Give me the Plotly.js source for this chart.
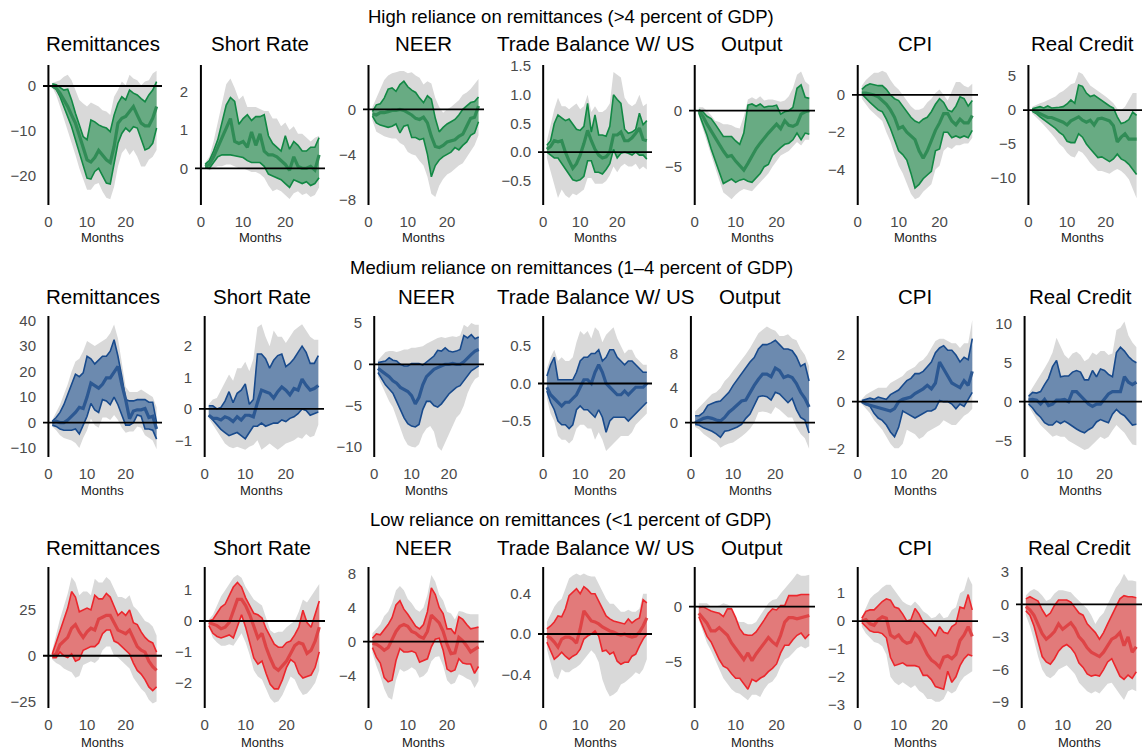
<!DOCTYPE html>
<html><head><meta charset="utf-8">
<script src="https://cdn.plot.ly/plotly-3.0.1.min.js"></script>
<style>html,body{margin:0;padding:0;background:#fff}#chart{width:1142px;height:751px}</style>
</head><body><div id="chart"></div>
<script>
const months = [1,2,3,4,5,6,7,8,9,10,11,12,13,14,15,16,17,18,19,20,21,22,23,24,25,26,27,28];
const rowTitles = ['High reliance on remittances (>4 percent of GDP)','Medium reliance on remittances (1\u20134 percent of GDP)','Low reliance on remittances (<1 percent of GDP)'];
const panelTitles = ['Remittances','Short Rate','NEER','Trade Balance W/ US','Output','CPI','Real Credit'];
const xTicks = [0,10,20];

// ---------- HIGH reliance ----------
const hi_remit_glo = [-0.3,-2,-4.6,-7.2,-9.8,-12.4,-15.4,-18.4,-21,-23.2,-23.2,-22,-21.7,-23.6,-25,-25.3,-22.5,-18,-15,-13.9,-15.4,-14.3,-15.8,-18,-18,-16.5,-15.8,-14.3];
const hi_remit_ghi = [0.7,1,1.3,2.1,2.5,1.3,-0.9,-3.1,-3.9,-4.6,-3.7,-4.2,-4.6,-5.4,-5.7,-6.5,-2.4,-0.9,1,0.2,2.5,1.7,1.3,0.2,1,1.3,2.8,3.4];
const hi_remit_lo = [0,-0.7,-2.4,-4.6,-6.8,-9.1,-12,-15,-18,-20.6,-20.8,-19.1,-18.4,-20.2,-21.7,-21.9,-17.2,-12.8,-10.6,-9.4,-10.2,-9.1,-9.4,-12,-14.3,-13.9,-12.8,-9.4];
const hi_remit_hi = [0.5,0.3,-0.3,-0.9,-0.7,-3.1,-6.1,-8.7,-11.3,-12,-7.6,-8,-8.7,-9.1,-9.4,-10.2,-6.5,-3.9,-2.4,-3.1,-0.9,-1.6,-2,-2.8,-3.5,-2,-0.9,1];
const hi_remit_med = [0,-0.5,-1.6,-3,-4.6,-6.5,-8.3,-11,-13.5,-16.5,-17,-16,-14.4,-15.4,-16.5,-17.1,-13.5,-8.3,-7.2,-6.8,-5.7,-4.6,-6.5,-8.3,-8.9,-8.9,-7.2,-4.6];

const hi_rate_glo = [0,-0.05,0,0.05,0.05,0.1,0.1,0.05,0,0,-0.05,-0.1,-0.1,-0.15,-0.25,-0.45,-0.6,-0.55,-0.6,-0.7,-0.8,-0.65,-0.6,-0.7,-0.65,-0.75,-0.7,-0.5];
const hi_rate_ghi = [0.15,0.3,0.7,1.2,1.7,2.2,2.35,2.1,1.8,1.9,1.6,1.6,1.6,1.55,1.5,1.5,1.3,1.3,1.1,1.2,1.0,1.1,0.9,0.9,0.8,0.7,0.8,0.85];
const hi_rate_lo = [0.02,0,0.15,0.3,0.35,0.35,0.35,0.33,0.3,0.28,0.2,0.15,0.15,0.15,0.05,-0.15,-0.2,-0.25,-0.3,-0.4,-0.5,-0.3,-0.35,-0.4,-0.35,-0.45,-0.4,-0.25];
const hi_rate_hi = [0.1,0.2,0.45,0.75,1.2,1.65,1.85,1.75,1.15,1.3,1.4,1.25,1.35,1.35,1.4,0.85,0.65,0.55,0.45,0.85,0.5,0.7,0.6,0.45,0.45,0.55,0.55,0.8];
const hi_rate_med = [0.05,0.1,0.3,0.55,0.8,1.05,1.3,0.7,0.65,0.7,0.55,0.95,0.6,0.9,0.45,0.35,0.35,0.3,0.2,0.1,-0.05,0.3,0.05,0,0,0.05,-0.05,0.35];

const hi_neer_glo = [-1,-2,-2.2,-2.4,-2.5,-2.6,-2.6,-3,-3.2,-3.8,-4,-4.1,-4.6,-5,-6,-7.5,-7.8,-6.8,-6.2,-5.8,-5.6,-5.3,-5,-4.8,-4.3,-3.7,-3.2,-2.3];
const hi_neer_ghi = [0.2,1,1.8,2.6,3,3.2,3.3,3.4,3.4,3.2,3.3,3,2.8,2.2,2.5,2.3,1,0.2,-0.3,0,0.2,0.5,0.8,1.3,1.5,1.8,2.3,2.7];
const hi_neer_lo = [-0.6,-1.2,-1.4,-1.5,-1.6,-1.5,-1.3,-2.1,-1.5,-1.4,-2.5,-2.5,-2.7,-2.6,-4,-6,-5,-4.5,-4.2,-4,-3.8,-3.4,-3.6,-3.2,-2.9,-2.3,-2.1,-1.1];
const hi_neer_hi = [-0.2,0.4,0.5,1,1.8,1.9,1.6,2.2,2.5,2,1.7,1.5,1,0.6,1.2,0.9,-0.8,-2,-1.6,-1.3,-1.1,-0.9,-0.5,0,0.3,0.6,0.7,1.1];
const hi_neer_med = [-0.4,-0.5,-0.3,-0.3,-0.2,-0.1,-0.1,0,-0.1,-0.3,-0.5,-0.8,-0.9,-0.7,-1.2,-2.4,-3.3,-3.4,-3.2,-2.9,-2.8,-2.7,-2.4,-2.2,-1.5,-0.8,-0.7,0.3];

const hi_tb_glo = [-0.1,-0.35,-0.6,-0.8,-0.65,-0.75,-0.8,-0.72,-0.75,-0.7,-0.65,-0.45,-0.45,-0.55,-0.55,-0.55,-0.5,-0.4,-0.25,-0.35,-0.25,-0.2,-0.25,-0.25,-0.2,-0.3,-0.25,-0.3];
const hi_tb_ghi = [0.2,0.5,0.75,0.95,0.8,0.8,0.75,0.8,0.85,0.75,0.8,1.0,0.7,0.8,0.7,0.7,0.75,0.85,1.4,1.35,1.3,0.95,0.85,0.8,0.85,1.0,0.8,0.85];
const hi_tb_lo = [0,-0.05,-0.1,-0.1,-0.2,-0.3,-0.4,-0.48,-0.5,-0.48,-0.42,-0.15,-0.15,-0.35,-0.35,-0.38,-0.3,-0.2,0.05,-0.1,-0.02,0,-0.02,-0.05,0,-0.05,-0.05,-0.12];
const hi_tb_hi = [0.12,0.2,0.5,0.65,0.6,0.55,0.58,0.5,0.4,0.38,0.45,0.85,0.35,0.65,0.3,0.3,0.28,0.45,1.0,0.92,0.85,0.4,0.33,0.35,0.4,0.68,0.48,0.55];
const hi_tb_med = [0.05,0.1,0.2,0.18,0.2,0,-0.15,-0.28,-0.2,-0.05,0.15,0.38,0.2,0.05,-0.05,-0.1,-0.08,0,0.3,0.3,0.35,0.2,0.2,0.25,0.33,0.42,0.22,0.2];

const hi_out_glo = [-0.5,-1.7,-2.8,-4,-5.1,-6.2,-7.3,-7.6,-7.9,-7.5,-7.2,-7,-7.1,-7.2,-6.8,-6.4,-6,-5.6,-5,-4.5,-4,-3.8,-3.6,-3.2,-2.8,-3.1,-2.6,-2.6];
const hi_out_ghi = [0.3,0.3,0,-0.4,-0.9,-1,-1.2,-1.2,-1.3,-1.5,-1.6,-0.5,1,1.2,1,1.3,0.9,1,1,0.9,0.8,0.9,1.3,2,3.2,3.5,2.6,2.3];
const hi_out_lo = [-0.2,-1.2,-2.2,-3.4,-4.5,-5.5,-6.5,-6.3,-6.1,-6.4,-6.2,-6.1,-6.3,-6.4,-6,-5.6,-5,-4.8,-4,-3.6,-3.3,-3,-2.9,-2.6,-2,-2.6,-2,-2.1];
const hi_out_hi = [0.1,-0.1,-0.5,-0.7,-1.2,-1.7,-2.3,-2.3,-2.3,-2.7,-3,-2,0.5,0.6,0.4,0.6,0.3,0.4,0.4,0.5,-0.3,-0.1,0,0.3,2,2.3,1.2,1.1];
const hi_out_med = [0,-0.5,-1.2,-1.8,-2.5,-3,-3.6,-4.1,-4,-4.5,-4.9,-5.3,-4.7,-4,-3.4,-2.9,-2.4,-2,-1.6,-1.2,-1.6,-0.9,-1.3,-1.4,-1.2,-0.3,-0.1,0];

const hi_cpi_glo = [-0.2,-0.5,-0.8,-1,-1.2,-1.4,-2,-2.5,-3.2,-3.8,-4.2,-4.7,-5.3,-5.6,-5.5,-5.2,-5,-4.8,-4,-3.8,-3,-2.8,-2.9,-2.7,-2.7,-2.6,-2.6,-2.3];
const hi_cpi_ghi = [0.5,0.8,1,1.2,1.2,1.3,1.2,0.8,0.5,0.3,0,-0.3,-0.6,-0.8,-0.8,-0.7,-0.4,-0.2,0.1,0.3,0,-0.3,0.2,0.7,0.7,0.5,0.4,0.6];
const hi_cpi_lo = [0.05,-0.2,-0.4,-0.6,-0.8,-0.9,-1.3,-1.8,-2.4,-3,-3.2,-3.5,-4.2,-5,-4.8,-4.5,-4.3,-4.1,-3,-2.9,-2,-2,-2.3,-2.2,-2.3,-2.2,-2.3,-1.9];
const hi_cpi_hi = [0.3,0.5,0.6,0.55,0.5,0.5,0.3,0,-0.2,-0.3,-0.6,-0.9,-1.2,-1.4,-1.5,-1.3,-1.2,-0.9,-0.5,-0.2,-0.4,-0.8,-0.9,-0.6,-0.1,-0.2,-0.6,-0.3];
const hi_cpi_med = [0.1,0.1,0.05,0,-0.1,-0.3,-0.5,-0.8,-1.2,-1.8,-1.7,-2,-2.2,-2.4,-3,-3.4,-3,-2.4,-1.9,-1.5,-1,-1,-1.4,-1.6,-1.3,-1.5,-1.5,-1.1];

const hi_cred_glo = [-0.5,-1,-1.6,-2.2,-2.8,-3.5,-4.2,-5,-5.5,-6.3,-6.8,-7,-6,-6.3,-7,-7.8,-8.4,-9,-9,-9.2,-9.4,-9,-8.7,-9,-9.5,-10.2,-11.5,-13];
const hi_cred_ghi = [0.5,0.8,1,1.2,1.5,1.8,2,2.5,2.8,3.3,3.8,4,5.6,5.3,4.5,3.6,3.2,2.8,2.5,2,1.5,1,0.2,0,0.5,1.5,2.5,2.5];
const hi_cred_lo = [-0.2,-0.5,-1,-1.4,-1.8,-2.3,-2.7,-3.3,-3.7,-4.6,-4.8,-4.8,-3.5,-4,-5,-5.7,-6.3,-7,-6.9,-7.2,-7.6,-7.2,-6.5,-7.2,-7.5,-8,-8.8,-9.5];
const hi_cred_hi = [0.2,0.4,0.5,0.3,0.6,0.3,0.3,0.4,0.5,0.9,1.5,1,3.7,3.5,2.5,2,2.2,1.8,1.3,0.9,0.6,0.3,-1,-2,-1.8,-1.4,-0.3,-0.8];
const hi_cred_med = [0,-0.3,-0.5,-0.8,-1.1,-1.1,-1.3,-1.5,-1.8,-2.2,-1.6,-1.3,-1,-1.5,-1.8,-1.5,-2.2,-1.3,-1.2,-1.4,-1.6,-2.3,-4.7,-4,-3.5,-4.3,-4.3,-4.3];

// ---------- MEDIUM reliance ----------
const md_remit_glo = [-1.5,-3,-5,-6,-6.5,-7,-8,-10,-6,-3,1.5,-1,-2,2,2,1,3,1,-2,-4,-3.5,-3.5,-1.5,-2,-5,-6,-7,-10.5];
const md_remit_ghi = [1,4,7,11,15,20,24,25,28,32,31,30,31,32,33,35,38.5,33,23,14,12,12,12,13,12,11,10,6];
const md_remit_lo = [-1,-1.5,-2.5,-3,-3,-3,-2.5,-4.5,-1,2.5,7.5,5,4,9,8.5,7,10,7,3,-1,-1,0,3,2.5,-2.5,-2.5,-3,-6.5];
const md_remit_hi = [0.5,2,4,7,11,15,19,18,19.5,26,25,23,24.5,26,26,28,32.5,26,18,9,8.5,8.5,9,9,9,8,8,0];
const md_remit_med = [0,0.5,0,0,1,2.5,4,6,5.5,10,15.5,14.5,13.5,15,17.5,17.5,20,22,15,9,1.5,4.5,5,5,5.5,2,2.5,-2.5];

const md_rate_glo = [-0.3,-0.5,-0.7,-0.9,-1.1,-1.2,-1.25,-1.2,-1.25,-1.3,-1.2,-1.15,-1,-1.3,-1.2,-1.1,-1.2,-1.3,-1.2,-1.1,-1.05,-1,-0.9,-0.95,-0.8,-0.9,-0.85,-0.5];
const md_rate_ghi = [0.15,0.3,0.35,0.6,0.8,1.1,0.9,1.3,1.3,1.5,1.2,1.6,2.6,2.7,2.3,2,2.5,2.3,2.3,2.1,2.3,2.5,2.6,2.7,2.5,2.3,2.2,2.2];
const md_rate_lo = [-0.2,-0.35,-0.5,-0.65,-0.75,-0.85,-0.8,-0.75,-0.85,-0.95,-0.75,-0.55,-0.55,-0.45,-0.55,-0.5,-0.45,-0.45,-0.35,-0.4,-0.3,-0.25,-0.15,0,-0.05,-0.2,-0.15,-0.1];
const md_rate_hi = [0.1,0.1,0,0.05,0.25,0.55,0.2,0.5,0.6,0.8,0.15,0.3,1.75,1.75,1.6,1.3,1.55,1.7,1.75,1.35,1.45,1.6,1.8,2,1.8,1.45,1.45,1.7];
const md_rate_med = [-0.2,-0.3,-0.3,-0.35,-0.25,-0.3,-0.4,-0.25,-0.35,-0.2,-0.2,-0.25,0.2,0.6,0.55,0.5,0.35,0.55,0.7,0.6,0.45,0.65,0.6,0.95,0.75,0.6,0.65,0.75];

const md_neer_glo = [-1.5,-2.5,-3.5,-4.5,-5.2,-6.5,-7.8,-9,-9.8,-10,-10.1,-9.7,-8.5,-7.8,-7.5,-8.2,-10,-10.5,-9.5,-8.5,-7.5,-6.5,-6,-5,-3.5,-2.5,-1.8,-1.5];
const md_neer_ghi = [0.5,1,1.5,1.6,1.6,1.5,1.6,1.8,1.8,2,2,2.1,2.2,2.5,2.7,3,3.2,3.3,3.2,3.3,3.4,3.3,3.5,4.8,4.5,5,4.8,4.8];
const md_neer_lo = [-1,-1.8,-2.5,-3,-3.5,-4.5,-5.5,-6.5,-7.2,-7.5,-7.6,-7.3,-5.5,-4.5,-4.5,-5,-5.2,-4.8,-4.2,-3.6,-3.2,-2.8,-2.6,-2,-1.3,-0.8,-0.5,-0.2];
const md_neer_hi = [0.2,0.3,0.4,0.8,0.5,0.4,0,-0.2,-0.2,0.1,0.1,0.1,-0.1,0.3,0.6,1,1.7,1.6,2,1.6,1.5,1.6,1.8,3.5,3.2,3.6,3.1,3.3];
const md_neer_med = [-0.5,-0.8,-1.2,-1.5,-2,-2.3,-2.8,-3,-3.3,-3.8,-4.8,-4,-2.5,-1.5,-1,-0.6,-0.4,-0.2,0,0,0.1,0,0,0.3,0.8,1.2,1.6,1.8];

const md_tb_glo = [-0.2,-0.4,-0.5,-0.7,-0.75,-0.75,-0.8,-0.75,-0.6,-0.55,-0.55,-0.6,-0.6,-0.75,-0.65,-0.75,-0.9,-0.85,-0.8,-0.75,-0.7,-0.7,-0.7,-0.65,-0.55,-0.5,-0.45,-0.4];
const md_tb_ghi = [0.2,0.35,0.45,0.3,0.35,0.3,0.3,0.35,0.55,0.7,0.65,0.7,0.6,0.75,0.7,0.55,0.65,0.7,0.75,0.6,0.5,0.4,0.45,0.45,0.35,0.3,0.25,0.25];
const md_tb_lo = [-0.1,-0.25,-0.35,-0.5,-0.55,-0.55,-0.6,-0.55,-0.35,-0.3,-0.35,-0.35,-0.4,-0.45,-0.35,-0.45,-0.65,-0.5,-0.45,-0.45,-0.45,-0.45,-0.5,-0.45,-0.4,-0.35,-0.3,-0.25];
const md_tb_hi = [0.1,0.25,0.35,0.05,0.05,0.05,0.05,0.05,0.15,0.3,0.35,0.35,0.4,0.4,0.45,0.3,0.35,0.45,0.45,0.35,0.3,0.25,0.3,0.3,0.25,0.2,0.15,0.15];
const md_tb_med = [-0.05,-0.15,-0.2,-0.25,-0.3,-0.25,-0.25,-0.2,-0.15,-0.05,0.05,0.05,0,0.15,0.25,0.15,0,-0.05,-0.1,-0.15,-0.15,-0.1,-0.15,-0.1,-0.05,-0.05,-0.05,0];

const md_out_glo = [-0.5,-0.8,-1.3,-1.7,-2,-2.3,-2.9,-2.6,-2.4,-2.3,-2,-1.6,-1.2,-0.7,0,1.2,1.3,1.2,1,1.8,1.5,1,0.6,0.6,-0.5,-1.3,-1.8,-3];
const md_out_ghi = [1.3,1.8,2.3,2.8,3.3,3.5,4,4.8,5.3,6,6.6,7.3,7.9,8.6,9.5,10.3,10.7,11.1,10.8,10.6,10,10,10.2,9.7,9.5,8.5,7.8,6.5];
const md_out_lo = [-0.2,-0.3,-0.6,-0.8,-1,-1.3,-1.7,-1,-0.9,-0.7,-0.5,-0.2,0.5,1,2,3,3.1,3,2.6,3.5,3.3,2.8,2.3,2.8,1.5,0.6,0.3,-1.2];
const md_out_hi = [0.8,0.8,1.2,2,2.2,2.4,2.5,3,3.5,4.3,5,5.6,6.3,7,7.5,8.5,9,9,9.2,9.5,9,8.5,8.5,8.3,7.6,6.5,6.8,4.8];
const md_out_med = [0,0.3,0.5,0.6,0.5,0.3,0.2,0.6,1.2,1.6,2,2.5,2.6,3.5,4.3,5,5.6,5.6,5.3,6.3,6,5.2,5.4,5.2,4.5,3.5,2.8,1.8];

const md_cpi_glo = [-0.1,-0.3,-0.5,-0.8,-1,-1.2,-1.5,-1.8,-2,-2,-1.8,-1.2,-1.3,-1.4,-1.6,-1.5,-1.3,-1.2,-1.1,-1,-0.8,-0.9,-1,-1,-0.8,-0.6,-0.5,-0.3];
const md_cpi_ghi = [0.1,0.3,0.4,0.5,0.6,0.6,0.6,0.8,0.9,1,1.1,1.3,1.4,1.5,1.7,1.8,2,2.3,2.6,2.7,2.7,2.6,2.5,2.5,2.3,2.5,2.5,3.5];
const md_cpi_lo = [0,-0.1,-0.2,-0.5,-0.7,-0.8,-1,-1.3,-1.5,-1.1,-0.4,-0.5,-0.6,-0.7,-0.6,-0.5,-0.4,-0.4,-0.3,0.05,0,0,-0.1,-0.3,-0.1,-0.2,0.1,0.4];
const md_cpi_hi = [0.05,0.1,0.15,0.1,0.2,0.15,0.1,0.3,0.4,0.5,0.7,0.9,1,1.2,1.2,1.3,1.5,1.7,2.1,2.3,2.4,2.2,2.2,2,1.7,1.9,1.8,2.7];
const md_cpi_med = [0,-0.1,-0.15,-0.2,-0.25,-0.3,-0.35,-0.4,-0.3,0,0.1,0.15,0.2,0.35,0.45,0.55,0.7,0.55,0.8,1.7,1.4,1.1,0.8,0.7,0.6,0.9,0.7,1.3];

const md_cred_glo = [-0.6,-1.5,-2.3,-3,-3.5,-4,-4.5,-4.3,-4.5,-4.5,-5,-5.3,-5.6,-5.9,-6.2,-6,-5.5,-5,-4.5,-4.8,-4.5,-3.7,-3,-3.5,-4,-4.8,-5.5,-5.6];
const md_cred_ghi = [1,1.8,2.6,3.4,4.3,5.2,6.3,8.2,7,6,5.5,6.2,6.4,6,5.2,5.5,6.3,6,6.5,6.5,6,6.2,9.2,9.5,10.3,8.5,7.6,7];
const md_cred_lo = [-0.3,-0.8,-1.5,-2,-2.7,-3,-3,-2.5,-2.8,-2.5,-2.8,-3.2,-3.5,-3.8,-4,-3.6,-3.3,-2.6,-2.3,-2.5,-2.7,-1.6,-1,-1.5,-1.8,-2.4,-3,-2.9];
const md_cred_hi = [0.7,1.2,1.1,1.3,2.2,3,4.5,5.3,3.2,3.3,3.3,3.8,4,3.8,2.8,2.8,4,3.2,4.2,4,3.5,3.2,6.3,7,6.5,5.8,5.3,5];
const md_cred_med = [0.2,0.3,0.2,-0.3,0.3,-0.5,-0.3,0.2,0.2,0.3,0,1.3,1.3,0.8,0.2,-0.3,-0.6,-0.3,-0.3,0.3,1,1.3,1.3,1.3,3.2,2.5,2.2,2.5];

// ---------- LOW reliance ----------
const lo_remit_glo = [-2,-4,-5,-7,-8,-9,-12,-11,-5,-4,-3,-4,-2,3,5,5,0,-1,-3,-5,-7,-12,-15,-18,-20,-24,-26,-25];
const lo_remit_ghi = [3,12,20,27,34,43,40,33,35,35,33,42,40,40,43,41,36,32,32,31,33,27,25,22,19,18,16,11];
const lo_remit_lo = [-1,-1,2,0,-1,1,-3,-2,3,4,5,5,7,12,14,14,8,7,5,3,1,-4,-8,-10,-13,-17,-19,-17];
const lo_remit_hi = [1,7,13,20,26,35,32,24,25,26,25,33,31,31,34,32,27,22,24,22,25,18,17,13,10,8,7,2];
const lo_remit_med = [0,1,6,8,10,15,17,13,10,13,15,14,20,21,22,22,18,14,13,12,14,9,5,3,2,-3,-6,-8];

const lo_rate_glo = [-0.2,-0.55,-0.7,-0.8,-0.8,-0.75,-0.8,-0.6,-0.4,-0.7,-1.1,-1.6,-1.8,-1.9,-2.2,-2.5,-2.65,-2.6,-2.4,-2.1,-1.8,-1.9,-2.2,-2.4,-2.35,-2.2,-2,-1.6];
const lo_rate_ghi = [0.05,0.2,0.5,0.8,1,1.2,1.4,1.5,1.4,1.1,0.9,0.7,0.6,0.5,0.1,-0.3,-0.4,-0.35,-0.35,-0.2,-0.1,0,0.3,0.7,0.6,0.8,1,1.2];
const lo_rate_lo = [-0.15,-0.4,-0.5,-0.55,-0.5,-0.45,-0.55,-0.2,0.2,-0.2,-0.7,-1.2,-1.4,-1.3,-1.7,-2.05,-2.2,-2.2,-1.9,-1.5,-1.25,-1.35,-1.7,-1.85,-1.8,-1.75,-1.5,-1];
const lo_rate_hi = [0,0.05,0.25,0.45,0.55,0.8,1.1,1.25,1.1,0.75,0.5,0.25,0.2,0.1,-0.25,-0.5,-0.75,-0.85,-0.85,-0.7,-0.65,-0.45,-0.2,0.35,-0.05,-0.2,0.25,0.65];
const lo_rate_med = [-0.05,-0.1,-0.15,-0.25,-0.2,-0.05,0.35,0.7,0.7,0.5,0.2,-0.15,-0.55,-0.4,-0.85,-1.2,-1.5,-1.6,-1.45,-1.3,-1.05,-0.8,-0.7,-0.75,-1.05,-0.95,-0.65,-0.2];

const lo_neer_glo = [-1.3,-2.8,-4,-5.5,-6.5,-6.8,-4.5,-3.2,-3.5,-3.3,-3,-3.3,-4.2,-4,-3.5,-2.3,-1.8,-1.7,-2.8,-4.5,-5,-4.8,-3.8,-4,-4.3,-4.5,-5.4,-4.6];
const lo_neer_ghi = [1,1.5,2,3,3.5,4.5,6,6.5,6,5,4.5,3.8,3.5,4,5.5,7.8,7,5.5,4.8,3.5,3.3,2.6,3.6,3.5,3.3,3.2,3.2,3.2];
const lo_neer_lo = [-0.7,-1.8,-2.5,-4.2,-4.7,-4.5,-2.2,-0.8,-1.2,-1.2,-1.1,-1.3,-2.4,-2.2,-2,-0.6,0.3,0.4,-1,-3.2,-3.5,-3.3,-2,-2.5,-2.6,-2.6,-3.7,-2.9];
const lo_neer_hi = [0.4,0.9,0.8,1.4,2,2.8,4.3,4.8,3.8,3.2,2.5,1.8,1.5,2,3.5,6.3,5.5,4,3.3,1.5,1.5,0.9,2.9,2.6,2,1.5,1.6,1.7];
const lo_neer_med = [-0.2,-0.3,-0.6,-1,-0.7,0.2,1.2,1.8,2,1.8,1.2,1,0.6,0.4,1.2,3.1,2.7,2.2,1.2,-0.3,-1.4,-1.3,0.5,0.1,-0.5,-1.2,-0.9,-0.6];

const lo_tb_glo = [-0.15,-0.3,-0.42,-0.45,-0.35,-0.38,-0.38,-0.35,-0.33,-0.3,-0.25,-0.2,-0.16,-0.2,-0.28,-0.45,-0.55,-0.62,-0.6,-0.57,-0.5,-0.48,-0.45,-0.42,-0.38,-0.4,-0.35,-0.25];
const lo_tb_ghi = [0.12,0.2,0.27,0.32,0.35,0.45,0.55,0.58,0.6,0.58,0.6,0.58,0.57,0.57,0.5,0.43,0.35,0.3,0.3,0.26,0.22,0.22,0.24,0.22,0.22,0.25,0.4,0.4];
const lo_tb_lo = [-0.08,-0.17,-0.25,-0.22,-0.18,-0.22,-0.25,-0.22,-0.2,-0.15,-0.05,-0.02,0,0.03,-0.02,-0.17,-0.16,-0.2,-0.18,-0.27,-0.3,-0.28,-0.28,-0.22,-0.2,-0.12,-0.05,0];
const lo_tb_hi = [0.05,0.08,0.12,0.18,0.17,0.25,0.38,0.42,0.45,0.4,0.47,0.44,0.4,0.4,0.33,0.25,0.18,0.15,0.13,0.12,0.11,0.1,0.15,0.11,0.14,0.16,0.34,0.31];
const lo_tb_med = [-0.02,-0.04,-0.08,-0.13,-0.05,-0.03,-0.03,-0.05,-0.09,0.05,0.23,0.18,0.13,0.12,0.1,0.07,0.05,0.03,0.02,0,-0.01,0,-0.02,-0.03,-0.02,0.02,0.08,0.16];

const lo_out_glo = [-1.2,-2.3,-3.3,-4,-4.8,-5.6,-6.5,-7,-7.5,-7.8,-7.9,-8.2,-8.5,-8,-8,-8.2,-7.5,-7,-6.8,-6.3,-5.4,-4.8,-4.6,-4.2,-3.8,-3.6,-3.8,-3.6];
const lo_out_ghi = [0.3,0.3,0.3,0,0,0.1,0.3,0.2,0,-1.2,-1.4,-1.4,-1.6,-1.6,-1.4,-0.8,-0.2,0.3,0.6,0.7,1.2,1.6,2,2.5,3,2.8,2.8,2.9];
const lo_out_lo = [-0.9,-1.8,-2.7,-3.2,-4,-4.8,-5.4,-5.6,-6.1,-6.5,-6.5,-7,-7.5,-6.6,-6.8,-6.5,-6.3,-5.9,-5.6,-5.2,-4.2,-3.5,-3.5,-3,-2.6,-2.4,-2.9,-2.5];
const lo_out_hi = [-0.1,0,-0.2,-0.4,-0.5,-0.6,-0.9,-0.2,-0.2,-1,-2,-2.5,-2.6,-2.6,-2.3,-1.8,-1.2,-0.6,-0.2,-0.3,0.1,0.1,1,1,1,1.1,1.1,1.1];
const lo_out_med = [-0.6,-1,-1.5,-2.2,-2.2,-1.9,-2.3,-2.6,-3.3,-3.8,-4.3,-4.8,-4.2,-4.9,-4.3,-3.8,-3.2,-2.8,-3.2,-3.5,-2.6,-1.4,-1,-1,-1.1,-1,-0.9,-0.8];

const lo_cpi_glo = [-0.2,-0.45,-0.6,-0.75,-0.8,-0.9,-1.2,-2,-2.2,-2.3,-2.2,-2.3,-2.4,-2.3,-2.5,-2.6,-2.8,-2.8,-2.9,-2.9,-2.8,-2.5,-2.6,-2.5,-2.2,-2,-1.9,-1.8];
const lo_cpi_ghi = [0.15,0.5,0.8,0.95,1.05,1.2,1.3,1.3,1.1,0.9,0.7,0.6,0.55,0.7,0.55,0.35,0.25,0.1,0.15,0.3,0.1,0.15,0.4,0.5,1,1.1,1.6,1.3];
const lo_cpi_lo = [-0.05,-0.2,-0.35,-0.4,-0.4,-0.45,-0.6,-1.3,-1.6,-1.55,-1.5,-1.6,-1.6,-1.6,-1.65,-1.95,-1.95,-2.1,-2.35,-2.4,-2.45,-1.8,-2.2,-2,-1.6,-1.35,-1.2,-1.25];
const lo_cpi_hi = [0.1,0.35,0.4,0.4,0.55,0.7,0.8,0.75,0.5,0.45,0.25,0,0.05,0.45,0.25,-0.05,-0.2,-0.35,-0.55,-0.2,-0.4,-0.45,-0.2,-0.1,0.5,0.45,0.95,0.4];
const lo_cpi_med = [0,0.05,-0.1,-0.15,0.05,0.15,0.1,-0.5,-0.6,-0.5,-0.7,-0.8,-0.75,-0.45,-0.6,-0.9,-1.2,-1.4,-1.5,-1.65,-1.3,-1.25,-1.35,-1.2,-0.7,-0.5,-0.2,-0.55];

const lo_cred_glo = [-1,-2,-3.3,-4.8,-6,-6.6,-6.8,-6.5,-6,-5.8,-5.6,-6,-6.4,-7.2,-7.6,-8,-8.2,-8,-8.2,-7.7,-7.3,-7.2,-7.8,-8.3,-8.8,-8,-7.8,-8];
const lo_cred_ghi = [0.8,1.2,1.4,1.2,0.8,0.3,0.5,1,1.3,1.3,1.2,1.1,0.7,0.3,0,-0.4,-1,-1.8,-1.2,-0.8,0,0.8,1.5,2,2.8,2.2,2.2,2.1];
const lo_cred_lo = [-0.6,-1,-2,-3.5,-4.8,-5.3,-5.5,-5,-4.3,-3.9,-3.7,-4,-4.5,-5.4,-5.8,-6.4,-6.6,-6.5,-6.6,-6,-5.3,-5,-5.8,-6.6,-6.9,-6.5,-6.8,-6.2];
const lo_cred_hi = [0.5,0.7,0.5,0.3,-0.5,-1.1,-0.8,-0.1,0.4,0.4,0.4,0.2,-0.3,-0.8,-1,-1.8,-2.2,-2.6,-3.2,-2.6,-1.8,-1,-0.2,0.5,0.8,0.7,0.7,0.6];
const lo_cred_med = [-0.2,-0.5,-1,-1.8,-2.7,-3.2,-2.9,-2.5,-1.8,-2.3,-2,-1.7,-2.2,-3,-3.4,-4,-4.4,-4.6,-4.8,-4.4,-3.8,-3.2,-3,-2.6,-3.8,-3,-4.4,-3.9];

// ---------- tick values ----------
const hi_ticks = [[0,-10,-20],[0,1,2],[4,0,-4,-8],[1.5,1.0,0.5,0.0,-0.5],[0,-5],[0,-2,-4,-6],[5,0,-5,-10]];
const md_ticks = [[40,30,20,10,0,-10],[2,1,0,-1],[5,0,-5,-10],[0.5,0.0,-0.5],[8,4,0],[2,0,-2],[10,5,0,-5]];
const lo_ticks = [[25,0,-25],[1,0,-1,-2],[8,4,0,-4],[0.4,0.0,-0.4],[0,-5],[1,0,-1,-2,-3],[3,0,-3,-6,-9]];

const rowsData = [
  [[hi_remit_glo,hi_remit_ghi,hi_remit_lo,hi_remit_hi,hi_remit_med],[hi_rate_glo,hi_rate_ghi,hi_rate_lo,hi_rate_hi,hi_rate_med],[hi_neer_glo,hi_neer_ghi,hi_neer_lo,hi_neer_hi,hi_neer_med],[hi_tb_glo,hi_tb_ghi,hi_tb_lo,hi_tb_hi,hi_tb_med],[hi_out_glo,hi_out_ghi,hi_out_lo,hi_out_hi,hi_out_med],[hi_cpi_glo,hi_cpi_ghi,hi_cpi_lo,hi_cpi_hi,hi_cpi_med],[hi_cred_glo,hi_cred_ghi,hi_cred_lo,hi_cred_hi,hi_cred_med]],
  [[md_remit_glo,md_remit_ghi,md_remit_lo,md_remit_hi,md_remit_med],[md_rate_glo,md_rate_ghi,md_rate_lo,md_rate_hi,md_rate_med],[md_neer_glo,md_neer_ghi,md_neer_lo,md_neer_hi,md_neer_med],[md_tb_glo,md_tb_ghi,md_tb_lo,md_tb_hi,md_tb_med],[md_out_glo,md_out_ghi,md_out_lo,md_out_hi,md_out_med],[md_cpi_glo,md_cpi_ghi,md_cpi_lo,md_cpi_hi,md_cpi_med],[md_cred_glo,md_cred_ghi,md_cred_lo,md_cred_hi,md_cred_med]],
  [[lo_remit_glo,lo_remit_ghi,lo_remit_lo,lo_remit_hi,lo_remit_med],[lo_rate_glo,lo_rate_ghi,lo_rate_lo,lo_rate_hi,lo_rate_med],[lo_neer_glo,lo_neer_ghi,lo_neer_lo,lo_neer_hi,lo_neer_med],[lo_tb_glo,lo_tb_ghi,lo_tb_lo,lo_tb_hi,lo_tb_med],[lo_out_glo,lo_out_ghi,lo_out_lo,lo_out_hi,lo_out_med],[lo_cpi_glo,lo_cpi_ghi,lo_cpi_lo,lo_cpi_hi,lo_cpi_med],[lo_cred_glo,lo_cred_ghi,lo_cred_lo,lo_cred_hi,lo_cred_med]]
];
const rowTicks = [hi_ticks, md_ticks, lo_ticks];

// ---------- layout geometry / style ----------
const W = 1142, H = 751;
const rowBox = [[65,205],[316,457],[567,708]];
const rowTitleY = [16,267,519];
const panelTitleY = [44,296,547];
const monthsY = [238,490,742];
const colBox = [
  [[43,162],[195,325],[363,484],[538,652],[689,815],[852,978],[1023,1142]],
  [[43,162],[199,324],[369,484],[538,652],[685,815],[852,978],[1019,1142]],
  [[43,162],[199,325],[363,484],[538,652],[689,815],[852,978],[1016,1142]]
];
const yRanges = [
  [[-26.6,4.7],[-0.96,2.70],[-8.5,3.94],[-0.92,1.52],[-8.42,4.08],[-5.91,1.61],[-14.0,6.64]],
  [[-13.5,41.8],[-1.53,2.96],[-11.25,5.86],[-0.98,0.90],[-3.96,12.3],[-2.37,3.67],[-7.1,11.0]],
  [[-28.5,48.4],[-2.82,1.75],[-7.75,8.73],[-0.734,0.665],[-9.2,3.6],[-3.12,1.94],[-9.53,3.43]]
];
const palette = [
  {fill:'rgb(104,171,131)', line:'rgb(18,136,68)', med:'rgb(48,140,86)'},
  {fill:'rgb(108,138,175)', line:'rgb(24,74,140)', med:'rgb(44,88,146)'},
  {fill:'rgb(226,122,122)', line:'rgb(236,38,44)', med:'rgb(222,68,70)'}
];
const GRAY = 'rgb(217,217,217)';
const FONT = 'Liberation Sans, Arial, Helvetica, sans-serif';
const TICKFONT = {size:15, color:'#4a4a4a', family:FONT};

const traces = [];
const layout = {
  width: W, height: H, margin:{l:0,r:0,t:0,b:0},
  paper_bgcolor:'#fff', plot_bgcolor:'#fff', showlegend:false,
  font:{family:FONT, color:'#000'},
  annotations:[], shapes:[]
};

let k = 0;
for (let r = 0; r < 3; r++) {
  layout.annotations.push({text: rowTitles[r], xref:'paper', yref:'paper', x:0.5, y:1-rowTitleY[r]/H,
    xanchor:'center', yanchor:'middle', showarrow:false, font:{size:18.5, color:'#000', family:FONT}});
  for (let c = 0; c < 7; c++) {
    k++;
    const xa = k === 1 ? 'x' : 'x' + k;
    const ya = k === 1 ? 'y' : 'y' + k;
    const xKey = k === 1 ? 'xaxis' : 'xaxis' + k;
    const yKey = k === 1 ? 'yaxis' : 'yaxis' + k;
    const [glo, ghi, clo, chi, med] = rowsData[r][c];
    const col = palette[r];
    const base = {x: months, xaxis: xa, yaxis: ya, hoverinfo:'skip', mode:'lines'};
    traces.push(Object.assign({}, base, {y: glo, line:{width:0, color:GRAY}}));
    traces.push(Object.assign({}, base, {y: ghi, line:{width:0, color:GRAY}, fill:'tonexty', fillcolor:GRAY}));
    traces.push(Object.assign({}, base, {y: clo, line:{width:0, color:col.fill}}));
    traces.push(Object.assign({}, base, {y: chi, line:{width:0, color:col.fill}, fill:'tonexty', fillcolor:col.fill}));
    traces.push(Object.assign({}, base, {y: clo, line:{width:1.6, color:col.line}}));
    traces.push(Object.assign({}, base, {y: chi, line:{width:1.6, color:col.line}}));
    traces.push(Object.assign({}, base, {y: med, line:{width:3.2, color:col.med}}));

    const [l, rr] = colBox[r][c];
    const [t, b] = rowBox[r];
    const ticks = rowTicks[r][c];
    const isDec = c === 3;
    layout[xKey] = {domain:[l/W, rr/W], range:[-1.4,29.4], anchor: ya, tickvals: xTicks,
      showgrid:false, zeroline:false, showline:false, ticks:'', ticklabelstandoff:6,
      tickfont:TICKFONT, fixedrange:true};
    layout[yKey] = {domain:[1-b/H, 1-t/H], range: yRanges[r][c], anchor: xa, tickvals: ticks,
      tickformat: isDec ? '.1f' : '', showgrid:false, zeroline:false, showline:false, ticks:'',
      ticklabelstandoff:6, tickfont:TICKFONT, fixedrange:true};

    const xd = xa + ' domain', yd = ya + ' domain';
    layout.shapes.push({type:'line', layer:'above', xref: xa, yref: yd, x0:0, x1:0, y0:0, y1:1, line:{color:'#000', width:2}});
    layout.shapes.push({type:'line', layer:'above', xref: xd, yref: ya, x0:0, x1:1, y0:0, y1:0, line:{color:'#000', width:1.8}});

    layout.annotations.push({text: panelTitles[c], xref: xd, yref:'paper', x:0.5, y:1-panelTitleY[r]/H,
      xanchor:'center', yanchor:'middle', showarrow:false, font:{size:20.5, color:'#000', family:FONT}});
    layout.annotations.push({text:'Months', xref: xd, yref:'paper', x:0.5, y:1-monthsY[r]/H,
      xanchor:'center', yanchor:'middle', showarrow:false, font:{size:13, color:'#1a1a1a', family:FONT}});
  }
}

Plotly.newPlot('chart', traces, layout, {staticPlot:true, displayModeBar:false});
</script>
</body></html>
